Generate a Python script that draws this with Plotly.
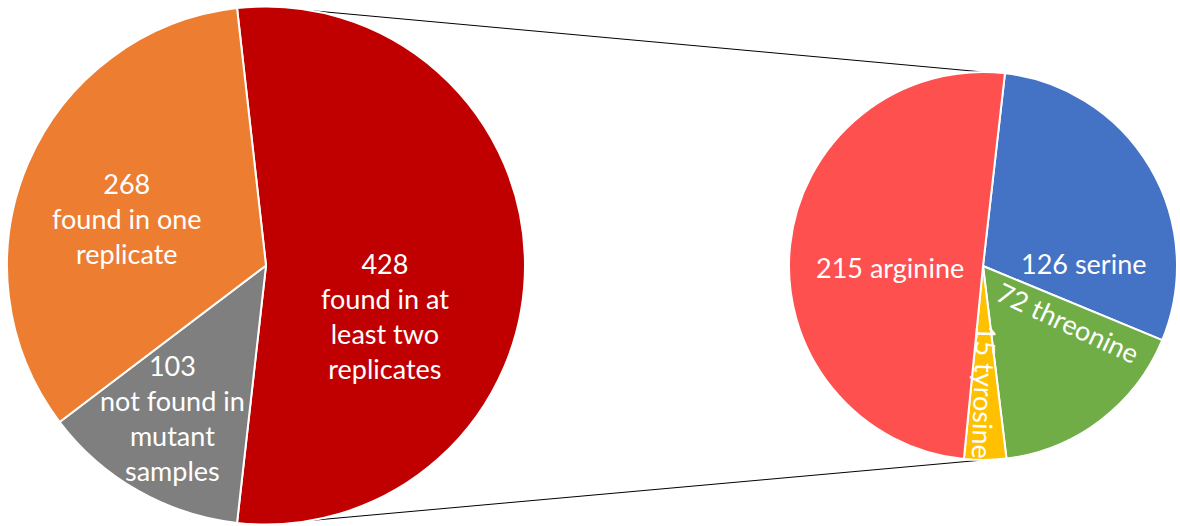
import plotly.graph_objects as go

# Canvas size in pixels
W, H = 1180, 526

# Primary pie: all phosphosites
main_counts = [428, 103, 268]
main_names = ["found in at<br>least two<br>replicates",
              "not found in<br>mutant<br>samples",
              "found in one<br>replicate"]
main_colors = ["#C00000", "#7F7F7F", "#ED7D31"]

# Secondary pie: breakdown of the 428 sites by residue
residue_counts = [126, 72, 15, 215]
residue_names = ["serine", "threonine", "tyrosine", "arginine"]
residue_colors = ["#4472C4", "#70AD47", "#FFC000", "#FF5050"]

# Pie geometry (pixel centre and radius)
MAIN_C, MAIN_R = (266, 265.5), 259
SUB_C, SUB_R = (983, 266), 194

# Label placement (pixel centres) and rotation
main_label_pos = [(385, 316), (172, 418), (127, 218)]
residue_label_pos = [(1083, 263), (1068, 322), (985, 392), (890, 267)]
residue_label_angle = [0, 25, 92, 0]

FONT = "Lato"
FSIZE = 27


def px_to_paper(x, y):
    return x / W, 1 - y / H


def domain(c, r):
    x0, y1 = px_to_paper(c[0] - r, c[1] - r)
    x1, y0 = px_to_paper(c[0] + r, c[1] + r)
    return dict(x=[x0, x1], y=[y0, y1])


# first (split) slice centred on the right-hand side
main_share = main_counts[0] / sum(main_counts)
main_rotation = 90 - 180 * main_share

fig = go.Figure()
fig.add_trace(go.Pie(
    values=main_counts,
    labels=[n.replace("<br>", " ") for n in main_names],
    marker=dict(colors=main_colors, line=dict(color="white", width=2)),
    sort=False, direction="clockwise", rotation=main_rotation,
    textinfo="none", hoverinfo="skip", showlegend=False,
    domain=domain(MAIN_C, MAIN_R),
))
fig.add_trace(go.Pie(
    values=residue_counts,
    labels=residue_names,
    marker=dict(colors=residue_colors, line=dict(color="white", width=2)),
    sort=False, direction="clockwise", rotation=6.5,
    textinfo="none", hoverinfo="skip", showlegend=False,
    domain=domain(SUB_C, SUB_R),
))

annotations = []
for cnt, name, (x, y) in zip(main_counts, main_names, main_label_pos):
    px, py = px_to_paper(x, y)
    annotations.append(dict(
        x=px, y=py, xref="paper", yref="paper", showarrow=False,
        text=f"{cnt}<br>{name}", font=dict(family=FONT, size=FSIZE, color="white"),
        xanchor="center", yanchor="middle", align="center"))
for cnt, name, (x, y), ang in zip(residue_counts, residue_names,
                                  residue_label_pos, residue_label_angle):
    px, py = px_to_paper(x, y)
    annotations.append(dict(
        x=px, y=py, xref="paper", yref="paper", showarrow=False,
        text=f"{cnt} {name}", textangle=ang,
        font=dict(family=FONT, size=FSIZE, color="white"),
        xanchor="center", yanchor="middle"))

# series lines joining the two pies (drawn underneath the slices)
shapes = []
for sign in (-1, 1):
    x0, y0 = px_to_paper(MAIN_C[0], MAIN_C[1] + sign * MAIN_R)
    x1, y1 = px_to_paper(SUB_C[0], SUB_C[1] + sign * SUB_R)
    shapes.append(dict(type="line", xref="paper", yref="paper",
                       x0=x0, y0=y0, x1=x1, y1=y1, layer="below",
                       line=dict(color="black", width=1)))

fig.update_layout(
    width=W, height=H,
    margin=dict(l=0, r=0, t=0, b=0),
    paper_bgcolor="white", plot_bgcolor="white",
    annotations=annotations, shapes=shapes,
)

fig.write_html("out.html", config={"displayModeBar": False})
